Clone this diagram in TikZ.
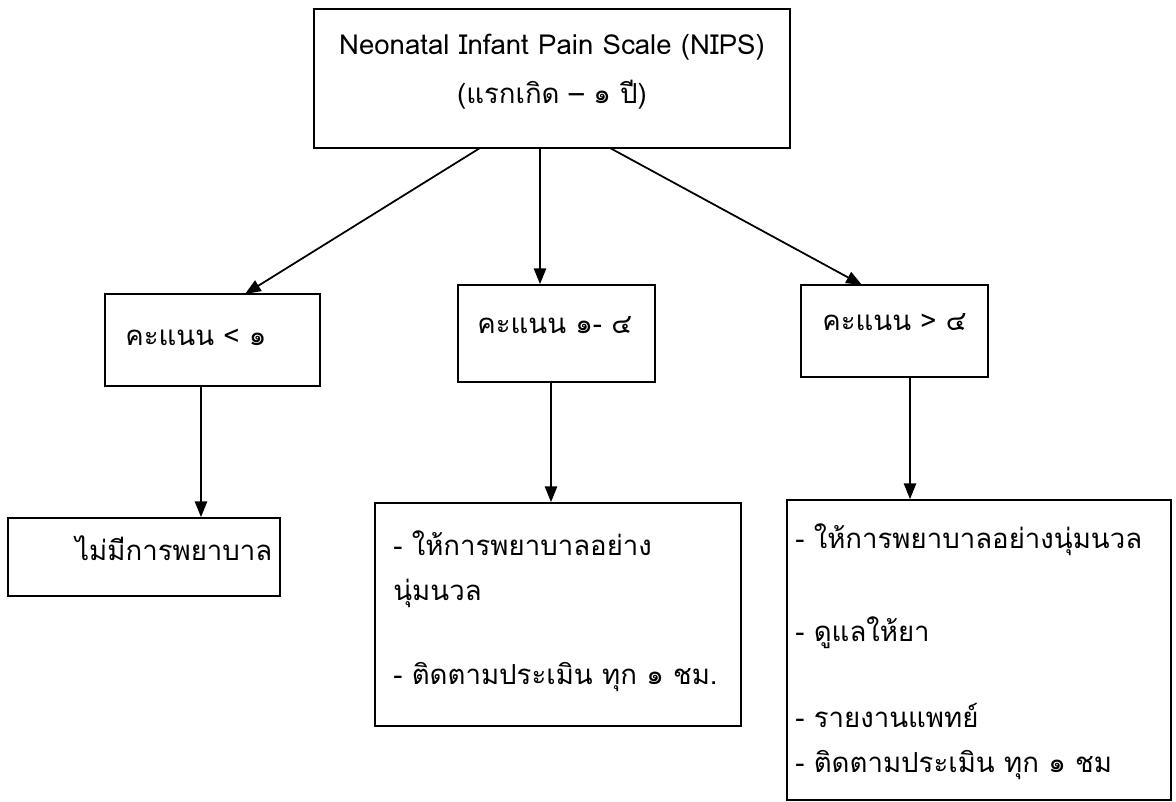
\documentclass[tikz,border=0pt]{standalone}
\usepackage{fontspec}
\setmainfont[Script=Thai]{Loma}
\usetikzlibrary{arrows.meta}

\begin{document}
\begin{tikzpicture}[x=0.02cm, y=-0.02cm,
        box/.style={draw, line width=1pt, inner sep=0pt},
        txt/.style={anchor=west, inner sep=0pt, font=\fontsize{15.7}{19}\selectfont},
        arr/.style={line width=1pt, -{Triangle[length=9pt,width=7pt]}}]
    \useasboundingbox (0,0) rectangle (1176,801);

    % boxes
    \node[box, minimum width=9.52cm, minimum height=2.78cm] (top) at (552,78.5) {};
    \node[box, minimum width=4.3cm, minimum height=1.84cm] (low) at (212.5,340) {};
    \node[box, minimum width=3.94cm, minimum height=1.94cm] (mid) at (556.5,333.5) {};
    \node[box, minimum width=3.74cm, minimum height=1.84cm] (high) at (894.5,331) {};
    \node[box, minimum width=5.44cm, minimum height=1.56cm] (none) at (144,557) {};
    \node[box, minimum width=7.32cm, minimum height=4.46cm] (care) at (558,614.5) {};
    \node[box, minimum width=7.68cm, minimum height=6.0cm] (drug) at (979,650) {};

    % texts
    \node[txt, anchor=center, align=center, font=\fontsize{15.7}{28}\selectfont] (title) at (552,72)
        {Neonatal Infant Pain Scale (NIPS)\\(แรกเกิด – ๑ ปี)};
    \node[txt] (lowT) at (125,337) {คะแนน < ๑};
    \node[txt] (midT) at (477,325) {คะแนน ๑- ๔};
    \node[txt] (highT) at (822,322) {คะแนน > ๔};
    \node[txt] (noneT) at (75,548) {ไม่มีการพยาบาล};
    \node[txt] (care1) at (393,543) {- ให้การพยาบาลอย่าง};
    \node[txt] (care2) at (393,593) {นุ่มนวล};
    \node[txt] (care3) at (393,677) {- ติดตามประเมิน ทุก ๑ ชม.};
    \node[txt] (drug1) at (795,540) {- ให้การพยาบาลอย่างนุ่มนวล};
    \node[txt] (drug2) at (795,633) {- ดูแลให้ยา};
    \node[txt] (drug3) at (795,715) {- รายงานแพทย์};
    \node[txt] (drug4) at (795,765) {- ติดตามประเมิน ทุก ๑ ชม};

    % connector ends
    \coordinate (s1) at (480,148);
    \coordinate (e1) at (245,294);
    \coordinate (s3) at (610,148);
    \coordinate (e3) at (862,285);

    \draw[arr] (s1) -- (e1);
    \draw[arr] (top.south -| 540,0) -- (mid.north -| 540,0);
    \draw[arr] (s3) -- (e3);
    \draw[arr] (low.south -| 201,0) -- (none.north -| 201,0);
    \draw[arr] (mid.south -| 551,0) -- (care.north -| 551,0);
    \draw[arr] (high.south -| 910,0) -- (drug.north -| 910,0);
\end{tikzpicture}
\end{document}
